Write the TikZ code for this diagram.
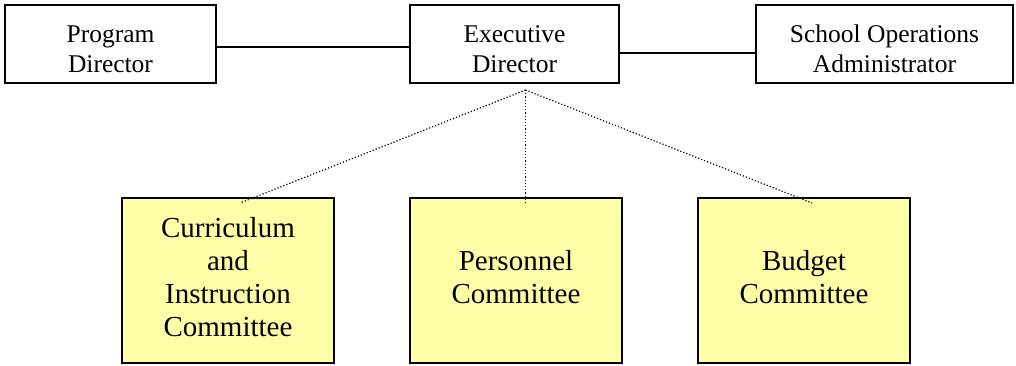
\documentclass[tikz,border=0pt]{standalone}
\usepackage{fontspec}
\setmainfont{Liberation Serif}
\definecolor{boxyellow}{RGB}{255,255,168}
\begin{document}
\begin{tikzpicture}[x=1pt,y=-1pt,
  topbox/.style={draw=black, line width=1.8pt, fill=white, align=center, inner sep=0pt, outer sep=0pt,
    minimum height=78pt, font=\fontsize{25.5}{30}\selectfont},
  combox/.style={draw=black, line width=1.8pt, fill=boxyellow, align=center, inner sep=0pt, outer sep=0pt,
    minimum width=212pt, minimum height=165pt, font=\fontsize{29}{33}\selectfont},
  solidlink/.style={line width=1.8pt},
  dotlink/.style={line width=1.2pt, dash pattern=on 1.2pt off 2pt}]
\useasboundingbox (0,0) rectangle (1016,365);
\node[topbox, minimum width=211pt] (pd) at (110.5,44) {\rule{0pt}{26.5pt}Program\\Director};
\node[topbox, minimum width=209pt] (ed) at (514.5,44) {\rule{0pt}{26.5pt}Executive\\Director};
\node[topbox, minimum width=257pt] (soa) at (884.5,44) {\rule{0pt}{26.5pt}School Operations\\Administrator};
\node[combox] (cur) at (228,280.5) {Curriculum\\and\\Instruction\\Committee\rule[-8pt]{0pt}{0pt}};
\node[combox] (per) at (516,280.5) {Personnel\\Committee\rule[-8pt]{0pt}{0pt}};
\node[combox] (bud) at (804,280.5) {Budget\\Committee\rule[-8pt]{0pt}{0pt}};
\draw[solidlink] ([yshift=-2.7pt]pd.east) -- ([yshift=-2.7pt]ed.west);
\draw[solidlink] ([yshift=-8.7pt]ed.east) -- ([yshift=-8.7pt]soa.west);
\coordinate (j) at ([xshift=11pt,yshift=-7pt]ed.south);
\draw[dotlink] (j) -- ([xshift=12pt,yshift=-5pt]cur.north);
\draw[dotlink] (j) -- ([xshift=9.5pt,yshift=-5pt]per.north);
\draw[dotlink] (j) -- ([xshift=8pt,yshift=-5pt]bud.north);
\end{tikzpicture}
\end{document}
